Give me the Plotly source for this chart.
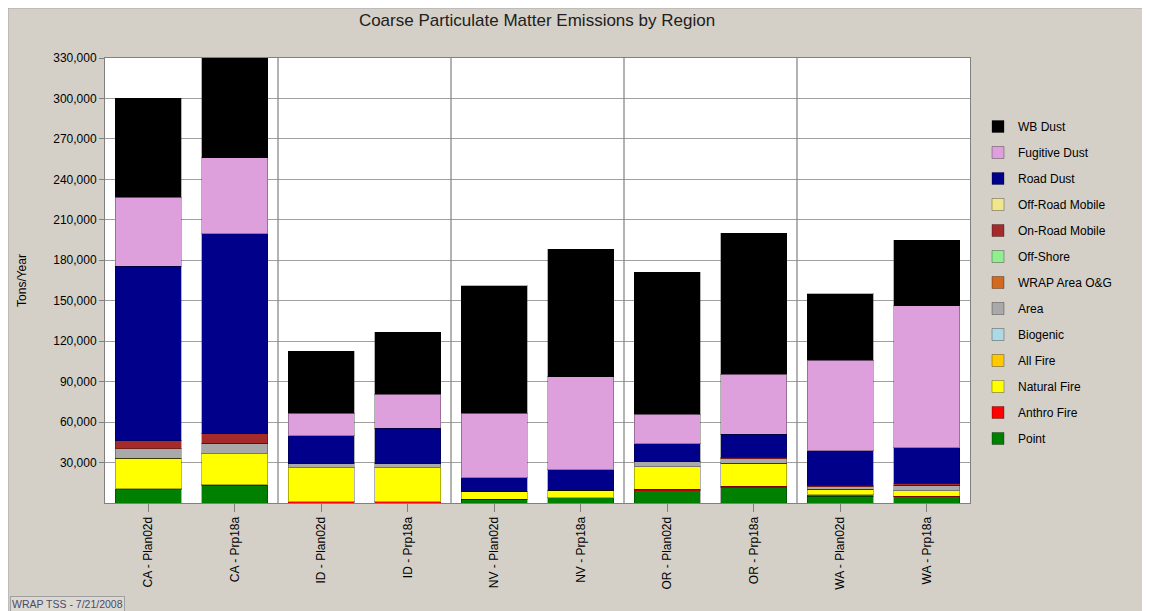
import plotly.graph_objects as go

categories = ["CA - Plan02d", "CA - Prp18a", "ID - Plan02d", "ID - Prp18a",
              "NV - Plan02d", "NV - Prp18a", "OR - Plan02d", "OR - Prp18a",
              "WA - Plan02d", "WA - Prp18a"]

point        = [9700, 13100, 0, 0, 2950, 3900, 9100, 11300, 4900, 4700]
anthro_fire  = [700, 300, 800, 800, 0, 0, 1000, 1000, 1250, 400]
natural_fire = [22800, 23000, 25300, 25300, 5450, 5700, 16700, 17000, 3950, 4000]
all_fire     = [0, 0, 0, 0, 0, 0, 0, 0, 0, 0]
biogenic     = [0, 0, 0, 0, 0, 0, 0, 0, 0, 0]
area         = [6900, 8000, 2900, 2900, 0, 0, 3950, 3700, 1950, 4200]
wrap_area_og = [0, 0, 0, 0, 0, 0, 0, 0, 0, 0]
off_shore    = [0, 0, 0, 0, 0, 0, 0, 0, 0, 0]
on_road      = [6200, 6900, 0, 0, 0, 0, 0, 1000, 950, 1200]
off_road     = [0, 0, 0, 0, 0, 0, 0, 0, 0, 0]
road_dust    = [129300, 148300, 20900, 26600, 10500, 15200, 13250, 16900, 25600, 26600]
fugitive     = [51000, 56500, 16800, 25200, 47800, 68900, 21700, 44700, 67200, 105000]
wb_dust      = [73400, 73900, 45800, 46000, 94300, 94500, 105400, 104400, 49200, 48700]

series_names = ["Point", "Anthro Fire", "Natural Fire", "All Fire", "Biogenic", "Area",
                "WRAP Area O&G", "Off-Shore", "On-Road Mobile", "Off-Road Mobile",
                "Road Dust", "Fugitive Dust", "WB Dust"]
series_values = [point, anthro_fire, natural_fire, all_fire, biogenic, area,
                 wrap_area_og, off_shore, on_road, off_road, road_dust, fugitive, wb_dust]
series_colors = ["#008000", "#FF0000", "#FFFF00", "#FFC800", "#ADD8E6", "#A9A9A9",
                 "#D2691E", "#90EE90", "#A52A2A", "#F0E68C", "#00008B", "#DDA0DD", "#000000"]

y_ticks = list(range(30000, 330001, 30000))

FONT = "Arial, Liberation Sans, sans-serif"

# page body has an 8px margin; figure coordinates start at (8, 8) of the window
OFF = 8
FW, FH = 1150 - OFF, 611 - OFF
PL, PR, PT, PB = 105, 970, 58, 503          # plot area in window pixels
L, T = PL - OFF, PT - OFF
R = FW - (PR - OFF)
B = FH - (PB - OFF)
W, H = FW - L - R, FH - T - B

def px_x(p):
    return (p - PL) / W

def px_y(p):
    return (PB - p) / H

fig = go.Figure()
n = len(series_names)
for i, (name, vals, col) in enumerate(zip(series_names, series_values, series_colors)):
    fig.add_trace(go.Bar(
        x=categories, y=vals, name=name, legendgroup=name, legendrank=n - i,
        marker=dict(color=col, line=dict(color="rgba(0,0,0,0.3)", width=1)),
    ))

shapes = []
# thin border around the grey panel
shapes.append(dict(type="rect", xref="paper", yref="paper", layer="below",
                   x0=px_x(OFF), x1=px_x(1160), y0=px_y(620), y1=px_y(OFF),
                   fillcolor="rgba(0,0,0,0)", line=dict(color="#A8A8A8", width=1)))
# separators between state groups
states = [c.split(" - ")[0] for c in categories]
for i in range(1, len(categories)):
    if states[i] != states[i - 1]:
        shapes.append(dict(type="line", xref="x", yref="paper", x0=i - 0.5, x1=i - 0.5,
                           y0=0, y1=1, line=dict(color="#808080", width=1.2)))

fig.update_layout(
    width=FW, height=FH,
    margin=dict(l=L, r=R, t=T, b=B),
    paper_bgcolor="#D4D0C8",
    plot_bgcolor="#FFFFFF",
    barmode="stack",
    bargap=0.24,
    font=dict(family=FONT, size=12, color="#000000"),
    title=dict(text="Coarse Particulate Matter Emissions by Region",
               x=px_x(537), xref="paper", xanchor="center",
               y=1 - (20 - OFF) / FH, yanchor="middle",
               font=dict(family=FONT, size=17, color="#202020")),
    showlegend=True,
    legend=dict(traceorder="grouped", x=px_x(978), y=px_y(112),
                xanchor="left", yanchor="top",
                bgcolor="rgba(0,0,0,0)", font=dict(family=FONT, size=12, color="#000000"),
                tracegroupgap=7, itemwidth=30),
    shapes=shapes,
    annotations=[dict(text="WRAP TSS - 7/21/2008", xref="paper", yref="paper",
                      x=px_x(10), y=px_y(604), xanchor="left", yanchor="middle",
                      showarrow=False, font=dict(family=FONT, size=10.5, color="#4A4A6A"),
                      bgcolor="#DCD9D2", bordercolor="#A0A0A0", borderwidth=1, borderpad=1)],
)

fig.update_yaxes(range=[0, 330000], tickvals=y_ticks, tickformat=",d",
                 showgrid=True, gridcolor="#A0A0A0", gridwidth=1,
                 showline=True, linecolor="#808080", mirror=True,
                 ticks="outside", ticklen=5, tickcolor="#808080",
                 zeroline=False,
                 title=dict(text="Tons/Year", font=dict(family=FONT, size=12), standoff=24))
fig.update_xaxes(showgrid=False, tickangle=-90,
                 showline=True, linecolor="#808080", mirror=True,
                 ticks="outside", ticklen=8, tickcolor="#808080",
                 tickfont=dict(family=FONT, size=12))

fig.write_html("out.html")
